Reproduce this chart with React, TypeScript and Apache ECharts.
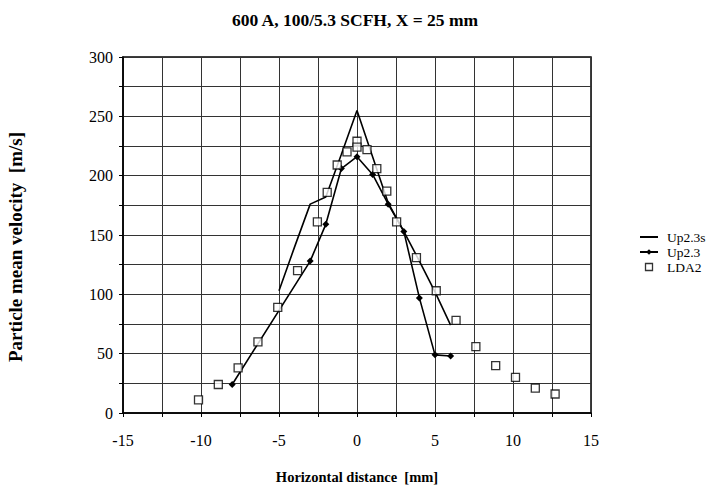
import React, { useEffect, useRef } from "react";
import * as echarts from "echarts";

const titleText = "600 A, 100/5.3 SCFH, X = 25 mm";
const xAxisName = "Horizontal distance  [mm]";
const yAxisName = "Particle mean velocity  [m/s]";

// Up2.3s (line, no markers)
const up23sX = [-5, -4, -3, -2, -1, 0, 1, 2, 3, 4, 5, 6];
const up23sY = [103, 140, 176, 182, 218, 255, 216, 177, 153, 128, 102, 74];

// Up2.3 (line with diamond markers)
const up23X = [-8, -3, -2, -1, 0, 1, 2, 3, 4, 5, 6];
const up23Y = [24, 128, 159, 206, 216, 201, 176, 153, 97, 49, 48];

// LDA2 (open squares)
const ldaX = [-10.16, -8.89, -7.62, -6.35, -5.08, -3.81, -2.54, -1.91, -1.27, -0.64, 0, 0, 0.64, 1.27, 1.91, 2.54, 3.81, 5.08, 6.35, 7.62, 8.89, 10.16, 11.43, 12.7];
const ldaY = [11, 24, 38, 60, 89, 120, 161, 186, 209, 220, 229, 224, 222, 206, 187, 161, 131, 103, 78, 56, 40, 30, 21, 16];

const zip = (xs: number[], ys: number[]) => xs.map((x, i) => [x, ys[i]]);

const FONT = "Liberation Serif";

export default function App() {
  const ref = useRef<HTMLDivElement>(null);
  useEffect(() => {
    if (!ref.current) return;
    const chart = echarts.init(ref.current, undefined, { renderer: "svg" });
    chart.setOption({
      animation: false,
      backgroundColor: "#ffffff",
      textStyle: { fontFamily: FONT, color: "#000" },
      title: {
        text: titleText,
        left: 350,
        textAlign: "center",
        top: 6,
        textStyle: { fontFamily: FONT, fontSize: 17.5, fontWeight: "bold", color: "#000" },
      },
      legend: {
        orient: "vertical",
        left: 634,
        top: 225,
        itemGap: 1,
        itemWidth: 18,
        itemHeight: 7,
        textStyle: { fontFamily: FONT, fontSize: 13.5, color: "#000", padding: [0, 0, 0, 4] },
        data: [
          { name: "Up2.3s", itemStyle: { opacity: 0 } },
          { name: "Up2.3" },
          {
            name: "LDA2",
            icon: "path://M0,0L10,0L10,10L0,10Z",
            itemStyle: { color: "#fff", borderColor: "#000", borderWidth: 1.3 },
          },
        ],
      },
      grid: {
        left: 123,
        top: 57,
        width: 468,
        height: 356,
        outerBoundsMode: "none",
        containLabel: false,
        show: true,
        borderColor: "#000",
        borderWidth: 1.5,
        backgroundColor: "transparent",
      },
      xAxis: {
        type: "value",
        min: -15,
        max: 15,
        interval: 2.5,
        name: xAxisName,
        nameLocation: "middle",
        nameGap: 56,
        nameTextStyle: { fontFamily: FONT, fontSize: 14.5, fontWeight: "bold", color: "#000" },
        axisLine: { show: true, onZero: false, lineStyle: { color: "#000", width: 1.5 } },
        axisTick: { show: true, length: 4, lineStyle: { color: "#000" } },
        axisLabel: {
          margin: 19,
          fontFamily: FONT,
          fontSize: 16,
          color: "#000",
          formatter: (v: number) => (Math.abs(v % 5) < 1e-9 ? String(v) : ""),
        },
        splitLine: { show: true, lineStyle: { color: "#333", width: 1 } },
      },
      yAxis: {
        type: "value",
        min: 0,
        max: 300,
        interval: 25,
        name: yAxisName,
        nameLocation: "middle",
        nameRotate: 90,
        nameGap: 98,
        nameTextStyle: {
          fontFamily: FONT,
          fontSize: 19,
          fontWeight: "bold",
          color: "#000",
          padding: [0, 24, 0, 0],
        },
        axisLine: { show: true, onZero: false, lineStyle: { color: "#000", width: 1.5 } },
        axisTick: { show: true, length: 4, lineStyle: { color: "#000" } },
        axisLabel: {
          margin: 10,
          fontFamily: FONT,
          fontSize: 16,
          color: "#000",
          formatter: (v: number) => (v % 50 === 0 ? String(v) : ""),
        },
        splitLine: { show: true, lineStyle: { color: "#333", width: 1 } },
      },
      series: [
        {
          name: "Up2.3s",
          type: "line",
          data: zip(up23sX, up23sY),
          symbol: "none",
          lineStyle: { color: "#000", width: 1.6 },
          itemStyle: { color: "#000" },
          z: 3,
        },
        {
          name: "Up2.3",
          type: "line",
          data: zip(up23X, up23Y),
          symbol: "diamond",
          symbolSize: 7,
          lineStyle: { color: "#000", width: 1.6 },
          itemStyle: { color: "#000" },
          z: 4,
        },
        {
          name: "LDA2",
          type: "scatter",
          data: zip(ldaX, ldaY),
          symbol: "rect",
          symbolSize: 8,
          itemStyle: { color: "#fff", borderColor: "#000", borderWidth: 1.3 },
          z: 5,
        },
      ],
    });
    return () => chart.dispose();
  }, []);
  return (
    <div
      ref={ref}
      style={{ position: "fixed", left: 0, top: 0, width: 709, height: 488 }}
    />
  );
}
